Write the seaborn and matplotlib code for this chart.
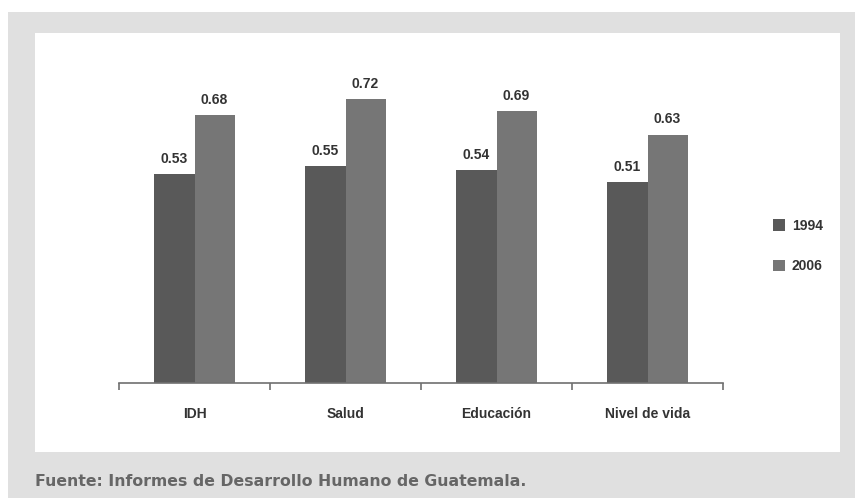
import matplotlib
matplotlib.use("Agg")
import matplotlib.pyplot as plt
import matplotlib.patches as mpatches
from matplotlib import font_manager
import seaborn as sns
import pandas as pd

categories = ["IDH", "Salud", "Educación", "Nivel de vida"]
years = ["1994", "2006"]
values_1994 = [0.53, 0.55, 0.54, 0.51]
values_2006 = [0.68, 0.72, 0.69, 0.63]
source_text = "Fuente: Informes de Desarrollo Humano de Guatemala."

colors = {"1994": "#595959", "2006": "#767676"}

df = pd.DataFrame({
    "cat": categories * 2,
    "year": ["1994"] * 4 + ["2006"] * 4,
    "val": values_1994 + values_2006,
})

sns.set_theme(style="white")
names = {f.name for f in font_manager.fontManager.ttflist}
narrow = "Liberation Sans Narrow" if "Liberation Sans Narrow" in names else "Liberation Sans"
plt.rcParams["font.family"] = [narrow, "DejaVu Sans"]

W, H = 855, 498
fig = plt.figure(figsize=(W / 100, H / 100), dpi=100, facecolor="white")

def px_rect(x0, y0, x1, y1, color):
    fig.patches.append(mpatches.Rectangle((x0 / W, 1 - y1 / H), (x1 - x0) / W, (y1 - y0) / H,
                                          transform=fig.transFigure, facecolor=color,
                                          edgecolor="none", zorder=-10))

px_rect(8, 12, 855, 498, "#e0e0e0")
px_rect(35, 33, 840, 452, "white")

ax_left, ax_right, ax_bottom = 119, 723, 383
ymax = 0.8
ppu = 394
ax_top = ax_bottom - ymax * ppu
ax = fig.add_axes([ax_left / W, 1 - ax_bottom / H, (ax_right - ax_left) / W, (ax_bottom - ax_top) / H])
ax.set_facecolor("none")

sns.barplot(data=df, x="cat", y="val", hue="year", order=categories, hue_order=years,
            palette=colors, width=0.53, gap=0, saturation=1, ax=ax, legend=False,
            edgecolor="none", linewidth=0)

for cont in ax.containers:
    ax.bar_label(cont, labels=[f"{v:.2f}" for v in cont.datavalues], padding=6,
                 fontsize=10, fontweight="bold", color="#333333")

ax.set_xlim(-0.5, 3.5)
ax.set_ylim(0, ymax)
ax.set_xlabel("")
ax.set_ylabel("")
ax.set_yticks([])
for s in ["top", "right", "left"]:
    ax.spines[s].set_visible(False)
ax.spines["bottom"].set_color("#707070")
ax.spines["bottom"].set_linewidth(1.2)
ax.set_xticks(range(4))
ax.set_xticklabels(categories, fontsize=10, fontweight="bold", color="#333333")
ax.tick_params(axis="x", which="major", length=0, pad=17)
ax.set_xticks([-0.5, 0.5, 1.5, 2.5, 3.5], minor=True)
ax.tick_params(axis="x", which="minor", bottom=True, length=5, width=1.2,
               color="#707070", direction="out")

handles = [mpatches.Patch(facecolor=colors[y], edgecolor="none", label=y) for y in years]
fig.legend(handles=handles, loc="center left", bbox_to_anchor=(760 / W, 1 - 246 / H),
           frameon=False, prop={"weight": "bold", "size": 10},
           handlelength=0.9, handleheight=0.9, handletextpad=0.5, labelspacing=1.9,
           labelcolor="#333333")

fig.text(35 / W, 1 - 481 / H, source_text, fontsize=11.3, fontweight="bold",
         color="#666666", family=["DejaVu Sans"], va="center", ha="left")

fig.savefig("out.png", dpi=100, facecolor="white")
